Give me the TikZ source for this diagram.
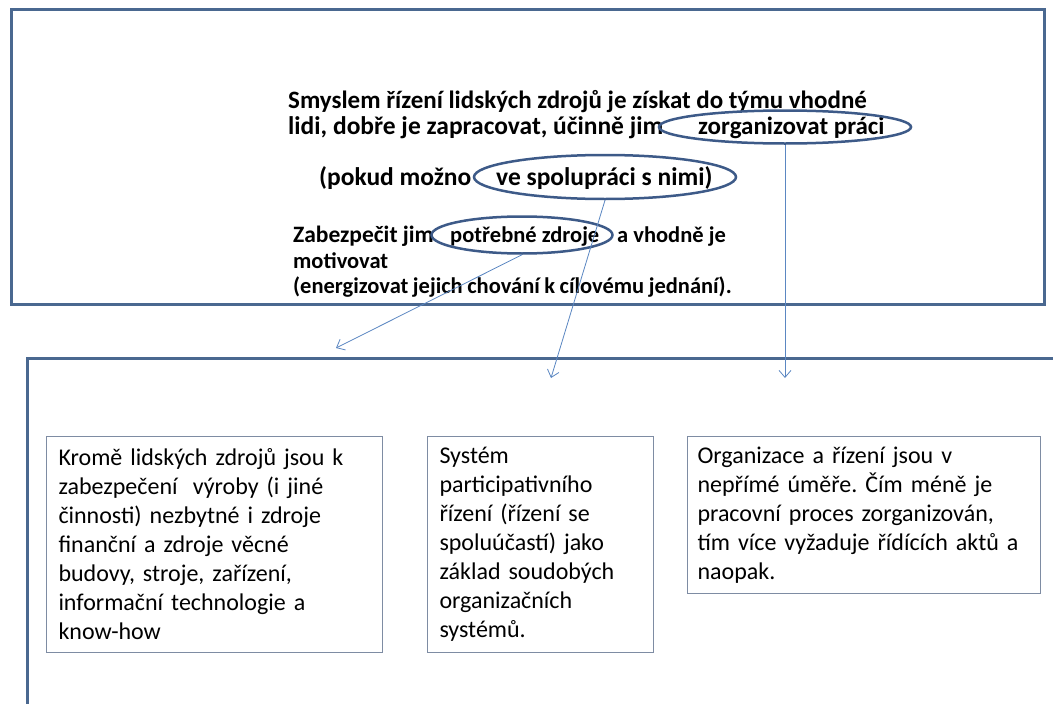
\documentclass[tikz,border=0pt]{standalone}
\usepackage{fontspec}
\setmainfont{Carlito}
\usetikzlibrary{arrows.meta,shapes.geometric}
\definecolor{framec}{HTML}{4A6890}
\definecolor{ellc}{HTML}{3D5A88}
\definecolor{arrc}{HTML}{5B87C2}
\definecolor{boxc}{HTML}{7E8CA3}
\begin{document}
\begin{tikzpicture}[x=1pt,y=-1pt,
  frame/.style={draw=framec,line width=3pt},
  hl/.style={draw=ellc,line width=2.5pt,ellipse,inner sep=0pt},
  txt/.style={font=\fontsize{25}{29}\selectfont\bfseries,anchor=base west,inner sep=0pt},
  txtw/.style={font=\fontsize{25.5}{30}\selectfont\bfseries,anchor=base west,inner sep=0pt},
  txtb/.style={font=\fontsize{22.5}{26}\selectfont\bfseries,anchor=base west,inner sep=0pt},
  link/.style={draw=arrc,line width=0.8pt,-{Straight Barb[length=7pt,width=12pt]}},
  card/.style={draw=boxc,line width=1pt,anchor=north west,inner xsep=12pt,inner ysep=0pt,
    align=left,font=\fontsize{24}{29}\selectfont\frenchspacing}]
\useasboundingbox (0,0) rectangle (1053,704);
\fill[white] (0,0) rectangle (1053,704);
% frames
\node[frame,rectangle,anchor=north west,minimum width=1033pt,minimum height=295pt,inner sep=0pt] (top) at (10,8) {};
\draw[frame] (27,712) -- (27,358) -- (1062,358);
% top text
\node[txt] (l1) at (288,108) {Smyslem řízení lidských zdrojů je získat do týmu vhodné};
\node[txtw] (l2) at (288,134) {lidi, dobře je zapracovat, účinně jim};
\node[txt] (z1) at (698,134) {zorganizovat práci};
\node[txtw] (l3) at (319,185) {(pokud možno};
\node[txtw] (s1) at (496,185) {ve spolupráci s nimi)};
\node[txtb,font=\fontsize{23.5}{26}\selectfont\bfseries] (l4) at (293,242) {Zabezpečit jim};
\node[txtb] (p1) at (450,242) {potřebné zdroje};
\node[txtb] (l4b) at (617,242) {a vhodně je};
\node[txtb] (l5) at (293,268) {motivovat};
\node[txtb] (l6) at (293,293) {\spaceskip=0.2em\relax(energizovat jejich chování k cílovému jednání).};
% ellipses
\node[hl,minimum width=252pt,minimum height=33pt] (e1) at (785,127) {};
\node[hl,minimum width=262pt,minimum height=44pt] (e2) at (605,177) {};
\node[hl,minimum width=181pt,minimum height=37pt] (e3) at (522,235) {};
% arrow ends
\coordinate (t1) at (785,378);
\coordinate (t2) at (551,378);
\coordinate (t3) at (336,348);
\draw[link] (e1.south) -- (t1);
\draw[link] (e2.south) -- (t2);
\draw[link] (e3.south) -- (t3);
% cards
\node[card,text width=312pt,minimum height=216pt] (c1) at (46,436) {Kromě lidských zdrojů jsou k\\zabezpečení\hspace{0.3em} výroby (i jiné\\činnosti) nezbytné i zdroje\\finanční a zdroje věcné\\budovy, stroje, zařízení,\\informační technologie a\\know-how};
\node[card,text width=202pt,minimum height=216pt] (c2) at (427,436) {Systém\\participativního\\řízení (řízení se\\spoluúčastí) jako\\základ soudobých\\organizačních\\systémů.};
\node[card,text width=333pt,minimum height=157pt,inner xsep=10pt] (c3) at (687,436) {Organizace a řízení jsou v\\nepřímé úměře. Čím méně je\\pracovní proces zorganizován,\\tím více vyžaduje řídících aktů a\\naopak.};
\end{tikzpicture}
\end{document}
